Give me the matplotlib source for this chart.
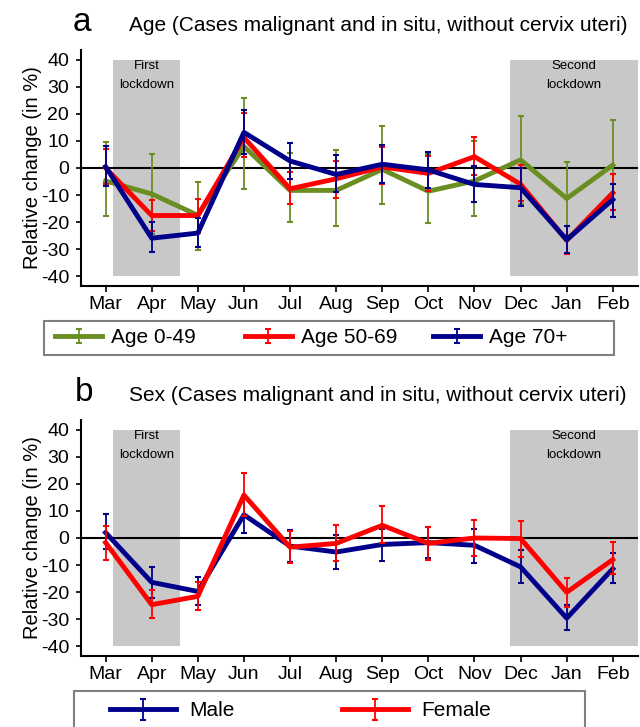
import numpy as np
import matplotlib
matplotlib.use("Agg")
import matplotlib.pyplot as plt
from matplotlib.legend_handler import HandlerErrorbar
from matplotlib.patches import Rectangle
from matplotlib.container import ErrorbarContainer

plt.rcParams['font.family'] = ['Liberation Sans', 'DejaVu Sans']
plt.rcParams['axes.unicode_minus'] = False

months = ['Mar', 'Apr', 'May', 'Jun', 'Jul', 'Aug', 'Sep', 'Oct', 'Nov', 'Dec', 'Jan', 'Feb']

# panel a - age groups (relative change in %, with lower / upper CI)
age_0_49 = [-4.8, -9.6, -17.5, 8.0, -8.3, -8.3, -0.5, -8.6, -4.8, 3.0, -11.3, 1.1]
age_0_49_lo = [-17.9, -24.3, -30.3, -7.7, -20.1, -21.4, -13.5, -20.4, -17.9, -13.2, -24.8, -15.7]
age_0_49_hi = [9.7, 5.1, -5.1, 25.8, 5.5, 6.7, 15.7, 5.0, 10.0, 19.4, 2.2, 17.9]

age_50_69 = [0.0, -17.6, -17.6, 11.3, -7.7, -4.0, 0.4, -2.0, 4.2, -6.0, -26.8, -9.2]
age_50_69_lo = [-6.0, -23.3, -24.0, 3.9, -13.5, -11.0, -6.0, -8.6, -2.7, -12.3, -31.9, -15.4]
age_50_69_hi = [7.0, -11.7, -11.4, 20.4, -1.5, 2.6, 7.8, 4.5, 11.3, 1.0, -21.6, -2.4]

age_70 = [0.5, -26.0, -24.1, 13.2, 2.6, -2.4, 1.4, -0.7, -6.1, -7.3, -26.6, -11.7]
age_70_lo = [-6.7, -31.2, -29.3, 5.1, -3.9, -8.9, -5.5, -7.3, -12.5, -14.2, -31.3, -18.1]
age_70_hi = [8.2, -20.1, -18.5, 21.5, 9.1, 4.7, 8.4, 6.0, 0.7, -0.1, -21.4, -6.1]

# panel b - sex
male = [2.0, -16.4, -19.8, 8.6, -3.0, -5.2, -2.4, -1.7, -2.7, -10.7, -29.7, -11.4]
male_lo = [-4.2, -22.2, -24.7, 1.7, -8.9, -11.4, -8.6, -7.5, -9.2, -16.6, -34.0, -16.6]
male_hi = [8.8, -10.8, -14.4, 15.0, 3.0, 1.1, 3.5, 4.0, 3.2, -4.6, -24.7, -5.5]

female = [-1.7, -24.7, -21.6, 15.9, -3.4, -2.0, 4.7, -2.0, 0.0, -0.2, -20.1, -8.0]
female_lo = [-8.2, -29.7, -26.8, 8.2, -9.2, -8.6, -1.7, -8.2, -6.5, -7.1, -25.6, -13.5]
female_hi = [4.5, -19.4, -16.3, 24.1, 2.6, 4.7, 11.9, 4.2, 6.7, 6.3, -14.8, -1.5]

GREEN = '#6B8E23'
RED = '#FF0000'
BLUE = '#00008B'
SHADE = '#C8C8C8'
W, H = 640, 727

x = np.arange(len(months))
XLIM = (-0.54, 11.54)
YLIM = (-43.7, 43.7)


def draw_panel(ax, series):
    ax.set_xlim(*XLIM)
    ax.set_ylim(*YLIM)
    # lockdown periods
    ax.fill_between([0.16, 1.62], -40, 40, color=SHADE, lw=0, zorder=0)
    ax.fill_between([8.78, XLIM[1]], -40, 40, color=SHADE, lw=0, zorder=0)
    ax.text(0.89, 37.8, 'First', ha='center', va='center', fontsize=9.5)
    ax.text(0.89, 30.7, 'lockdown', ha='center', va='center', fontsize=9.5)
    ax.text(10.15, 37.8, 'Second', ha='center', va='center', fontsize=9.5)
    ax.text(10.15, 30.7, 'lockdown', ha='center', va='center', fontsize=9.5)
    ax.axhline(0, color='black', lw=1.5, zorder=1)

    handles = []
    for i, (vals, lo, hi, col, lab) in enumerate(series):
        vals = np.array(vals)
        yerr = [vals - np.array(lo), np.array(hi) - vals]
        h = ax.errorbar(x, vals, yerr=yerr, color=col, lw=3.5, elinewidth=1.3,
                        capsize=2.5, capthick=1.5, label=lab, zorder=2 + i)
        handles.append(h)

    for s in ['top', 'right']:
        ax.spines[s].set_visible(False)
    ax.spines['left'].set_linewidth(1.5)
    ax.spines['bottom'].set_linewidth(1.5)
    ax.set_xticks(x)
    ax.set_xticklabels(months)
    ax.set_yticks(np.arange(-40, 41, 10))
    ax.tick_params(axis='both', labelsize=14, width=1.2)
    ax.tick_params(axis='y', length=3.4, pad=5)
    ax.tick_params(axis='x', length=4.5, pad=3)
    ax.set_ylabel('Relative change (in %)', fontsize=14.5, labelpad=-1)
    return handles


def legend_row(fig, handles, xs, yc, hlen, pad, errsize):
    # one frameless legend per entry so the spacing follows the original
    for h, x0 in zip(handles, xs):
        fig.legend(handles=[h], loc='center left', bbox_to_anchor=(x0 / W, 1 - yc / H),
                   fontsize=15, frameon=False, borderpad=0, borderaxespad=0,
                   handlelength=hlen, handletextpad=pad,
                   handler_map={ErrorbarContainer: HandlerErrorbar(xerr_size=errsize)})


fig = plt.figure(figsize=(W / 100, H / 100), dpi=100)
ax1 = fig.add_axes([80.7 / W, 1 - 286 / H, 557 / W, 236 / H])
ax2 = fig.add_axes([80.7 / W, 1 - 656 / H, 557 / W, 236 / H])

h1 = draw_panel(ax1, [(age_0_49, age_0_49_lo, age_0_49_hi, GREEN, 'Age 0-49'),
                      (age_50_69, age_50_69_lo, age_50_69_hi, RED, 'Age 50-69'),
                      (age_70, age_70_lo, age_70_hi, BLUE, 'Age 70+')])
h2 = draw_panel(ax2, [(male, male_lo, male_hi, BLUE, 'Male'),
                      (female, female_lo, female_hi, RED, 'Female')])

# panel letters and titles
fig.text(82 / W, 1 - 31 / H, 'a', fontsize=24, ha='center', va='baseline')
fig.text(129 / W, 1 - 31 / H, 'Age (Cases malignant and in situ, without cervix uteri)',
         fontsize=15, ha='left', va='baseline')
fig.text(84 / W, 1 - 401 / H, 'b', fontsize=24, ha='center', va='baseline')
fig.text(129 / W, 1 - 401 / H, 'Sex (Cases malignant and in situ, without cervix uteri)',
         fontsize=15, ha='left', va='baseline')

# legends
legend_row(fig, h1, [55.3, 244.5, 433.0], 338, 2.26, 0.43, 0.35)
fig.add_artist(Rectangle((43.8 / W, 1 - 355 / H), 570 / W, 34 / H, transform=fig.transFigure,
                         fill=False, ec='#808080', lw=1.5))
legend_row(fig, h2, [109.7, 342.0], 711, 3.17, 0.65, 0.5)
fig.add_artist(Rectangle((73.7 / W, 1 - 735 / H), 511 / W, 44 / H, transform=fig.transFigure,
                         fill=False, ec='#808080', lw=1.5))

fig.savefig('out.png', dpi=100)
